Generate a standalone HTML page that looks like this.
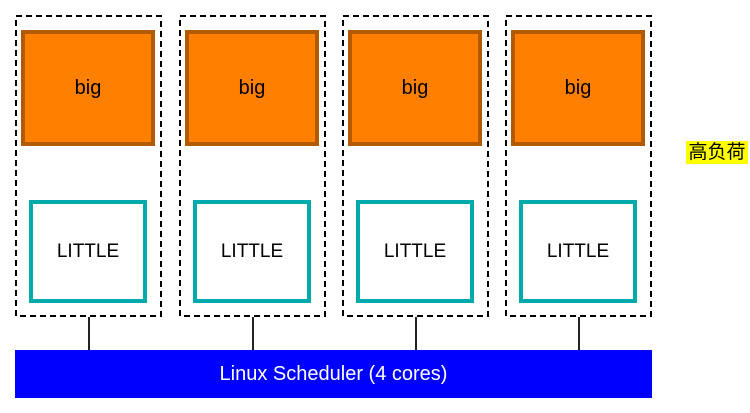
<!DOCTYPE html>
<html><head><meta charset="utf-8"><style>
body{margin:0;width:750px;height:413px;background:#fff;position:relative;overflow:hidden;font-family:"Liberation Sans","Noto Sans CJK SC",sans-serif}
.b{position:absolute;top:30px;width:134px;height:116px;background:#ff8000;border:4px solid #b35900;box-sizing:border-box;display:flex;align-items:center;justify-content:center;font-size:20px;color:#000}
.l{position:absolute;top:200px;width:118px;height:103px;background:#fff;border:4px solid #00aaaa;box-sizing:border-box;display:flex;align-items:center;justify-content:center;font-size:19px;color:#000}
.v{position:absolute;top:317px;width:2px;height:33px;background:#222}
</style></head><body>
<svg width="750" height="413" style="position:absolute;left:0;top:0">
<g fill="none" stroke="#000" stroke-width="2" stroke-dasharray="6,4">
<rect x="16" y="16" width="145" height="300"/>
<rect x="180" y="16" width="145" height="300"/>
<rect x="343" y="16" width="145" height="300"/>
<rect x="506" y="16" width="145" height="300"/>
</g></svg>
<div class="b" style="left:21px">big</div><div class="l" style="left:29px">LITTLE</div><div class="v" style="left:88px"></div>
<div class="b" style="left:185px">big</div><div class="l" style="left:193px">LITTLE</div><div class="v" style="left:252px"></div>
<div class="b" style="left:348px">big</div><div class="l" style="left:356px">LITTLE</div><div class="v" style="left:415px"></div>
<div class="b" style="left:511px">big</div><div class="l" style="left:519px">LITTLE</div><div class="v" style="left:578px"></div>
<div style="position:absolute;left:15px;top:350px;width:637px;height:48px;background:#0000ff;color:#fff;font-size:20px;display:flex;align-items:center;justify-content:center">Linux Scheduler (4 cores)</div>
<div style="position:absolute;left:686px;top:141px;height:23px;width:62px;text-align:center;background:#ffff00;font-size:19px;line-height:23px;color:#000">高负荷</div>
</body></html>
